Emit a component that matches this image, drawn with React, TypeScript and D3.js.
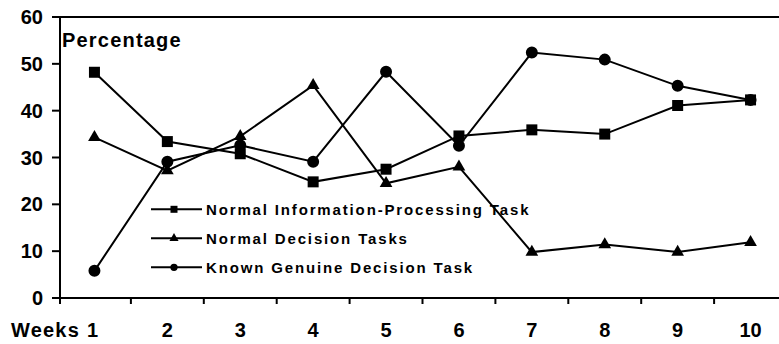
import React from "react";
import * as d3 from "d3";

const weeks = ["1", "2", "3", "4", "5", "6", "7", "8", "9", "10"];
const infoProcessing = [48.2, 33.4, 30.8, 24.8, 27.5, 34.6, 35.9, 35.0, 41.1, 42.3];
const decisionTasks = [34.3, 27.2, 34.5, 45.4, 24.5, 28.0, 9.8, 11.4, 9.8, 11.9];
const genuineDecision = [5.8, 29.1, 32.6, 29.1, 48.3, 32.5, 52.4, 50.9, 45.3, 42.3];
const yTicks = [0, 10, 20, 30, 40, 50, 60];
const seriesNames = [
  "Normal Information-Processing Task",
  "Normal Decision Tasks",
  "Known Genuine Decision Task",
];

const W = 779;
const H = 344;
const FONT = "'Liberation Sans', Arial, sans-serif";

export default function App() {
  const x = d3.scaleBand<string>().domain(weeks).range([58, 58 + 72.9 * 10]).padding(0);
  const y = d3.scaleLinear().domain([0, 60]).range([298, 17]);
  const axisX = 60;

  const series = [
    { name: seriesNames[0], values: infoProcessing, sym: d3.symbolSquare, size: 121, lsize: 49 },
    { name: seriesNames[1], values: decisionTasks, sym: d3.symbolTriangle, size: 70, lsize: 36 },
    { name: seriesNames[2], values: genuineDecision, sym: d3.symbolCircle, size: 113, lsize: 42 },
  ];

  const cx = (w: string) => (x(w) as number) + x.bandwidth() / 2;
  const line = d3
    .line<number>()
    .x((_, i) => cx(weeks[i]))
    .y((d) => y(d));

  const tickXs = weeks.map((w) => x(w) as number).concat([(x(weeks[weeks.length - 1]) as number) + x.bandwidth()]);

  return (
    <svg
      width={W}
      height={H}
      style={{ position: "absolute", left: 0, top: 0, background: "#fff" }}
      fontFamily={FONT}
    >
      <rect x={0} y={0} width={W} height={H} fill="#fff" />
      {/* frame top */}
      <line x1={axisX} x2={W + 5} y1={y(60)} y2={y(60)} stroke="#000" strokeWidth={2} />
      {/* y axis */}
      <line x1={axisX} x2={axisX} y1={y(60)} y2={y(0)} stroke="#000" strokeWidth={2} />
      {yTicks.map((t) => (
        <g key={t}>
          <line x1={axisX - 8} x2={axisX} y1={y(t)} y2={y(t)} stroke="#000" strokeWidth={2} />
          <text
            x={43}
            y={y(t)}
            textAnchor="end"
            dominantBaseline="central"
            fontSize={20}
            fontWeight="bold"
          >
            {t}
          </text>
        </g>
      ))}
      {/* x axis */}
      <line x1={axisX} x2={W + 5} y1={y(0)} y2={y(0)} stroke="#000" strokeWidth={2} />
      {tickXs.map((t, i) => (
        <line key={i} x1={Math.max(t, axisX)} x2={Math.max(t, axisX)} y1={y(0)} y2={y(0) + 6} stroke="#000" strokeWidth={2} />
      ))}
      {weeks.map((w) => (
        <text key={w} x={cx(w) - (w === "1" ? 2 : 0)} y={336.5} textAnchor="middle" fontSize={20} fontWeight="bold">
          {w}
        </text>
      ))}
      <text x={11} y={336.5} fontSize={20} fontWeight="bold" letterSpacing={1.2}>
        Weeks
      </text>
      <text x={62} y={46.5} fontSize={20} fontWeight="bold" letterSpacing={1.2}>
        Percentage
      </text>
      {/* series */}
      {series.map((s, si) => (
        <g key={si}>
          <path d={line(s.values) || ""} fill="none" stroke="#000" strokeWidth={2} />
          {s.values.map((v, i) => (
            <path
              key={i}
              d={d3.symbol().type(s.sym).size(s.size)() || ""}
              transform={`translate(${cx(weeks[i])},${y(v)})`}
              fill="#000"
            />
          ))}
        </g>
      ))}
      {/* legend */}
      {series.map((s, si) => {
        const ly = 209.3 + si * 29;
        return (
          <g key={"lg" + si}>
            <line x1={151} x2={202} y1={ly} y2={ly} stroke="#000" strokeWidth={2} />
            <path d={d3.symbol().type(s.sym).size(s.lsize)() || ""} transform={`translate(174,${ly})`} fill="#000" />
            <text x={206} y={ly} dominantBaseline="central" fontSize={15} fontWeight="bold" letterSpacing={1.85}>
              {s.name}
            </text>
          </g>
        );
      })}
    </svg>
  );
}
